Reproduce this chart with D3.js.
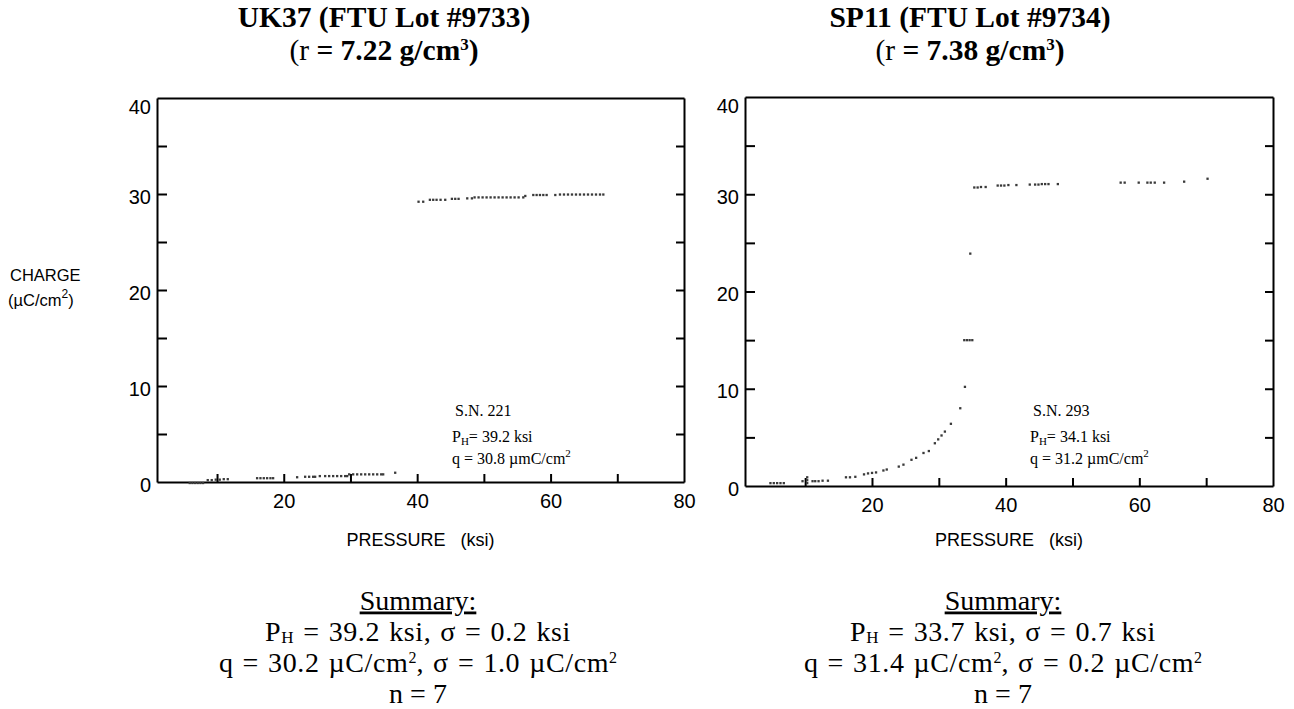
<!DOCTYPE html>
<html><head><meta charset="utf-8">
<script src="https://cdn.jsdelivr.net/npm/d3@7"></script>
<style>
body{margin:0;background:#fff;}
svg{display:block;}
</style></head>
<body>
<svg id="c" width="1294" height="709"></svg>
<script>
// ---------- data ----------
const xTickValues = [10,20,30,40,50,60,70,80];
const xTickLabels = [20,40,60,80];
const yTickValues = [0,5,10,15,20,25,30,35,40];
const yTickLabels = [0,10,20,30,40];

// UK37 (S.N. 221)
const ukPressure = [5.9,6.3,6.7,7.1,7.5,7.9, 8.6,9.2,9.8,10.4,11.0,11.6, 16.0,16.5,17.0,17.5,18.0,18.4,
  22.0,23.2,23.8,24.4,24.7, 25.4,26.2,26.8,27.4,28.0,28.6,29.2,29.5, 29.8,30.4,31.0,31.6,32.2,32.8,33.4,34.0,34.6,34.9, 36.7,
  40.2,40.9,41.9,42.4,42.9,43.5,44.2, 45.2,45.7,46.2, 47.5,48.2, 48.6,49.2,49.8,50.4,51.0,51.6,52.2,52.8,53.4,54.0,54.6,55.2,55.9,
  56.2, 57.4,57.9,58.4,58.9,59.4, 60.7, 61.4,62.0,62.6,63.2,63.8,64.4,65.0,65.6,66.2,66.8,67.4, 67.9];
const ukCharge = [-0.1,-0.1,-0.1,-0.1,-0.1,-0.1, 0.2,0.2,0.25,0.25,0.3,0.3, 0.4,0.4,0.4,0.4,0.4,0.4,
  0.5,0.55,0.55,0.55,0.55, 0.62,0.62,0.62,0.62,0.62,0.62,0.62,0.62, 0.8,0.8,0.8,0.8,0.8,0.8,0.8,0.8,0.8,0.8, 0.97,
  29.2,29.2,29.4,29.4,29.4,29.4,29.4, 29.5,29.5,29.5, 29.55,29.55, 29.65,29.65,29.65,29.65,29.65,29.65,29.65,29.65,29.65,29.65,29.65,29.65,29.65,
  29.8, 29.9,29.9,29.9,29.9,29.9, 29.9, 29.95,29.95,29.95,29.95,29.95,29.95,29.95,29.95,29.95,29.95,29.95, 29.95];

// SP11 (S.N. 293)
const spPressure = [4.8,5.3,5.8,6.3,6.8, 9.6,10.3,10.3,10.3,11.1, 11.5,12.0,12.6,13.4, 16.1,16.7,17.5,
  18.8,19.4,20.0,20.6, 21.7,22.2, 24.0,24.7, 25.9,26.6, 27.7,28.5, 29.4,29.9,30.4,30.9, 31.8, 33.2, 33.9,
  33.8,34.2,34.6,35.0, 34.7,
  35.3,35.8,36.3,37.0, 38.8,39.3,39.8,40.4,41.6, 43.6,44.4,44.9,45.4,45.9,46.4,47.8,
  57.2,57.8, 59.9,61.2,61.7,62.3,63.7, 66.7, 70.2];
const spCharge = [0.3,0.3,0.3,0.3,0.3, 0.5,0.3,0.6,0.9,0.5, 0.5,0.5,0.55,0.55, 0.9,0.9,0.95,
  1.2,1.3,1.35,1.4, 1.6,1.7, 2.0,2.2, 2.7,2.9, 3.4,3.6, 4.4,4.8,5.2,5.6, 6.4, 8.0, 10.2,
  15.0,15.0,15.0,15.0, 23.9,
  30.7,30.7,30.75,30.75, 30.9,30.9,30.9,30.95,30.95, 31.0,31.0,31.0,31.05,31.05,31.05,31.05,
  31.2,31.2, 31.2,31.2,31.2,31.2,31.2, 31.3, 31.6];

const panels = [
  {title1:"UK37 (FTU Lot #9733)", dens:"7.22", sn:"S.N. 221", ph:"39.2", q:"30.8",
   sPH:"39.2", sPHs:"0.2", sQ:"30.2", sQs:"1.0", n:"7", px:ukPressure, cy:ukCharge,
   x0:157, x1:684, yT:98, yB:482, ylabel:true, tcx:384, scx:418, ax:452},
  {title1:"SP11 (FTU Lot #9734)", dens:"7.38", sn:"S.N. 293", ph:"34.1", q:"31.2",
   sPH:"33.7", sPHs:"0.7", sQ:"31.4", sQs:"0.2", n:"7", px:spPressure, cy:spCharge,
   x0:745, x1:1273, yT:97, yB:486, ylabel:false, tcx:970, scx:1003, ax:1030}
];

const svg = d3.select("#c");
const serif = "'Liberation Serif','Times New Roman',serif";
const sans = "'Liberation Sans',Arial,sans-serif";

panels.forEach(p => {
  const x = d3.scaleLinear().domain([1,80]).range([p.x0,p.x1]);
  const y = d3.scaleLinear().domain([0,40]).range([p.yB,p.yT]);
  const cx = (p.x0+p.x1)/2;
  const g = svg.append("g");

  // axes
  const fmtX = d => xTickLabels.includes(d) ? d : "";
  const fmtY = d => yTickLabels.includes(d) ? d : "";
  const bx = g.append("g").attr("transform",`translate(0,${p.yB})`)
    .call(d3.axisBottom(x).tickValues(xTickValues).tickSize(-8).tickSizeOuter(0).tickPadding(12).tickFormat(fmtX));
  const tx = g.append("g").attr("transform",`translate(0,${p.yT})`)
    .call(d3.axisTop(x).tickValues([]).tickSizeOuter(0));
  const ly = g.append("g").attr("transform",`translate(${p.x0},0)`)
    .call(d3.axisLeft(y).tickValues(yTickValues).tickSize(-10).tickSizeOuter(0).tickPadding(6).tickFormat(fmtY));
  const ry = g.append("g").attr("transform",`translate(${p.x1},0)`)
    .call(d3.axisRight(y).tickValues(yTickValues).tickSize(-8).tickSizeOuter(0).tickFormat(""));
  [bx,tx,ly,ry].forEach(a=>{
    a.selectAll("path.domain").attr("stroke","#000").attr("stroke-width",2);
    a.selectAll(".tick line").attr("stroke","#000").attr("stroke-width",2);
    a.selectAll(".tick text").attr("font-family",sans).attr("font-size",20).attr("fill","#000");
  });
  bx.selectAll(".tick").filter(d=>d===80).select("line").remove();
  ly.selectAll(".tick").filter(d=>d===0||d===40).select("line").remove();
  ry.selectAll(".tick").filter(d=>d===0||d===40).select("line").remove();
  ly.selectAll(".tick text").attr("dy","0.45em");
  ly.selectAll(".tick").filter(d=>d===40).select("text").attr("dy","0.75em");

  // data
  g.append("g").selectAll("rect").data(p.px.map((v,i)=>[v,p.cy[i]])).join("rect")
    .attr("x",d=>x(d[0])-1.1).attr("y",d=>y(d[1])-1.1).attr("width",2.3).attr("height",2.3)
    .attr("fill","#3a3a3a");

  // titles
  g.append("text").attr("x",p.tcx).attr("y",26.5).attr("text-anchor","middle")
    .attr("font-family",serif).attr("font-weight","bold").attr("font-size",29.5).text(p.title1);
  const t2 = g.append("text").attr("x",p.tcx).attr("y",59.5).attr("text-anchor","middle")
    .attr("font-family",serif).attr("font-weight","bold").attr("font-size",29.5);
  t2.append("tspan").attr("font-weight","normal").text("(r");
  t2.append("tspan").text(` = ${p.dens} g/cm`);
  t2.append("tspan").attr("font-size",17).attr("dy",-10).text("3");
  t2.append("tspan").attr("dy",10).text(")");

  // x label
  g.append("text").attr("x",cx).attr("y",546).attr("text-anchor","middle")
    .attr("font-family",sans).attr("font-size",18).attr("xml:space","preserve")
    .text("PRESSURE   (ksi)");

  // y label
  if (p.ylabel){
    g.append("text").attr("x",10).attr("y",281).attr("font-family",sans).attr("font-size",16.5).text("CHARGE");
    const yl = g.append("text").attr("x",8).attr("y",306).attr("font-family",sans).attr("font-size",16.5);
    yl.append("tspan").text("(µC/cm");
    yl.append("tspan").attr("font-size",12).attr("dy",-8).text("2");
    yl.append("tspan").attr("dy",8).text(")");
  }

  // annotation
  const ax = p.ax;
  g.append("text").attr("x",ax+3).attr("y",416).attr("font-family",serif).attr("font-size",16).text(p.sn);
  const a1 = g.append("text").attr("x",ax).attr("y",442).attr("font-family",serif).attr("font-size",16);
  a1.append("tspan").text("P");
  a1.append("tspan").attr("font-size",11).attr("dy",3).text("H");
  a1.append("tspan").attr("dy",-3).text(`= ${p.ph} ksi`);
  const a2 = g.append("text").attr("x",ax).attr("y",464).attr("font-family",serif).attr("font-size",16);
  a2.append("tspan").text(`q = ${p.q} µmC/cm`);
  a2.append("tspan").attr("font-size",11).attr("dy",-7).text("2");

  // summary
  const sx = p.scx;
  const sf = 28;
  const ls = 0.6, ws = 1.5;
  g.append("text").attr("x",sx).attr("y",609.5).attr("text-anchor","middle").attr("font-family",serif)
    .attr("font-size",sf).attr("text-decoration","underline").text("Summary:");
  const s1 = g.append("text").attr("x",sx).attr("y",640.6).attr("text-anchor","middle").attr("font-family",serif)
    .attr("font-size",sf).attr("word-spacing",ws).attr("letter-spacing",ls);
  s1.append("tspan").text("P");
  s1.append("tspan").attr("font-size",17).attr("dy",2).text("H");
  s1.append("tspan").attr("dy",-2).text(` = ${p.sPH} ksi, σ = ${p.sPHs} ksi`);
  const s2 = g.append("text").attr("x",sx).attr("y",671.7).attr("text-anchor","middle").attr("font-family",serif)
    .attr("font-size",sf).attr("word-spacing",ws).attr("letter-spacing",ls);
  s2.append("tspan").text(`q = ${p.sQ} µC/cm`);
  s2.append("tspan").attr("font-size",16).attr("dy",-9).attr("letter-spacing",0).text("2");
  s2.append("tspan").attr("dy",9).text(`, σ = ${p.sQs} µC/cm`);
  s2.append("tspan").attr("font-size",16).attr("dy",-9).attr("letter-spacing",0).text("2");
  g.append("text").attr("x",sx).attr("y",702.8).attr("text-anchor","middle").attr("font-family",serif)
    .attr("font-size",sf).text(`n = ${p.n}`);
});
</script>
</body></html>
